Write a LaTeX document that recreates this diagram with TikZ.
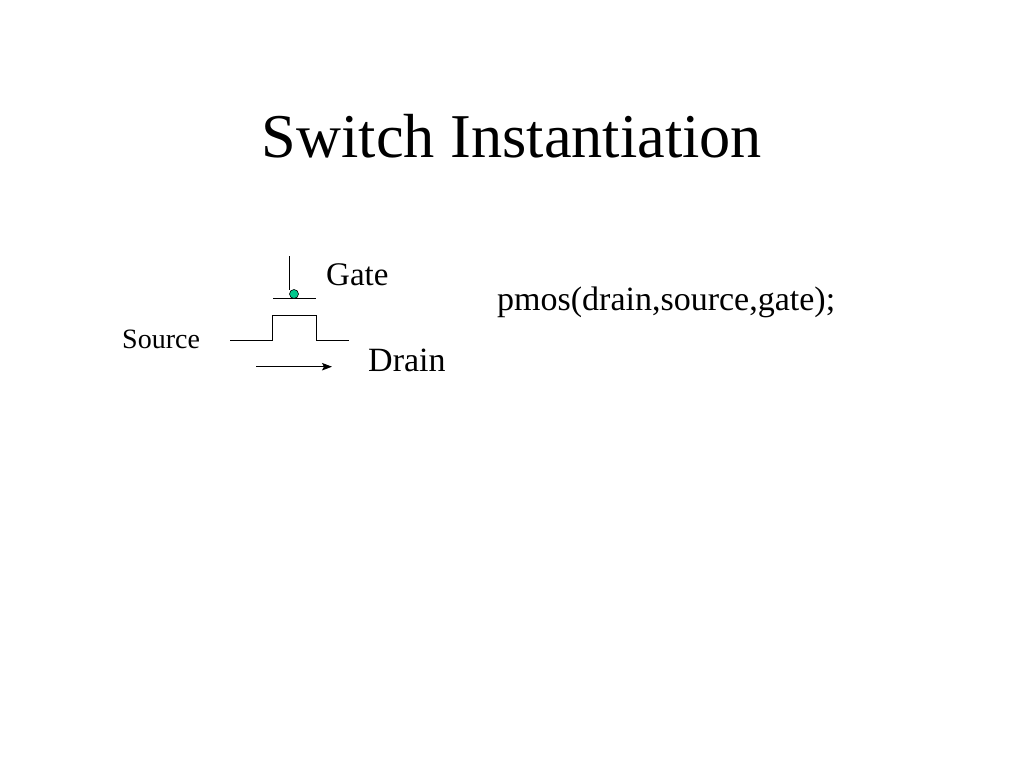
\documentclass[tikz,border=0pt]{standalone}
\usepackage{fontspec}
\setmainfont{Liberation Serif}
\usetikzlibrary{arrows.meta}
\definecolor{gatedot}{RGB}{0,200,140}
\begin{document}
\begin{tikzpicture}[x=1pt,y=-1pt,
  lbl/.style={inner sep=0pt,anchor=base west},
  wire/.style={line width=1pt,black}]
\useasboundingbox (0,0) rectangle (1024,768);
\fill[white] (0,0) rectangle (1024,768);
\node[inner sep=0pt,anchor=base,font=\fontsize{62.3}{70}\selectfont] (title) at (512,157) {Switch Instantiation};
\node[lbl,font=\fontsize{33}{38}\selectfont] (gate) at (326,285) {Gate};
\node[lbl,font=\fontsize{28}{32}\selectfont] (source) at (122,348) {Source};
\node[lbl,font=\fontsize{34}{38}\selectfont] (drain) at (368,371) {Drain};
\node[lbl,font=\fontsize{34}{38}\selectfont] (code) at (497,310) {pmos(drain,source,gate);};
% gate
\coordinate (gtop) at (289.7,256);
\coordinate (gbot) at (289.7,290);
\draw[wire] (gtop) -- (gbot);
\coordinate (barL) at (273.3,298.3);
\coordinate (barR) at (315.7,298.3);
\draw[wire] (barL) -- (barR);
\node[circle,draw=black,line width=0.6pt,fill=gatedot,minimum size=9pt,inner sep=0pt] (dot) at (294,294) {};
% channel
\coordinate (sL) at (230,340);
\coordinate (dR) at (349.3,340);
\draw[wire] (sL) -- (272.7,340) -- (272.7,315.7) -- (316,315.7) -- (316,340) -- (dR);
% arrow
\coordinate (aS) at (256,366.7);
\coordinate (aE) at (332,366.7);
\draw[wire,-{Stealth[length=10pt,width=7.5pt,inset=2pt]}] (aS) -- (aE);
\end{tikzpicture}
\end{document}
